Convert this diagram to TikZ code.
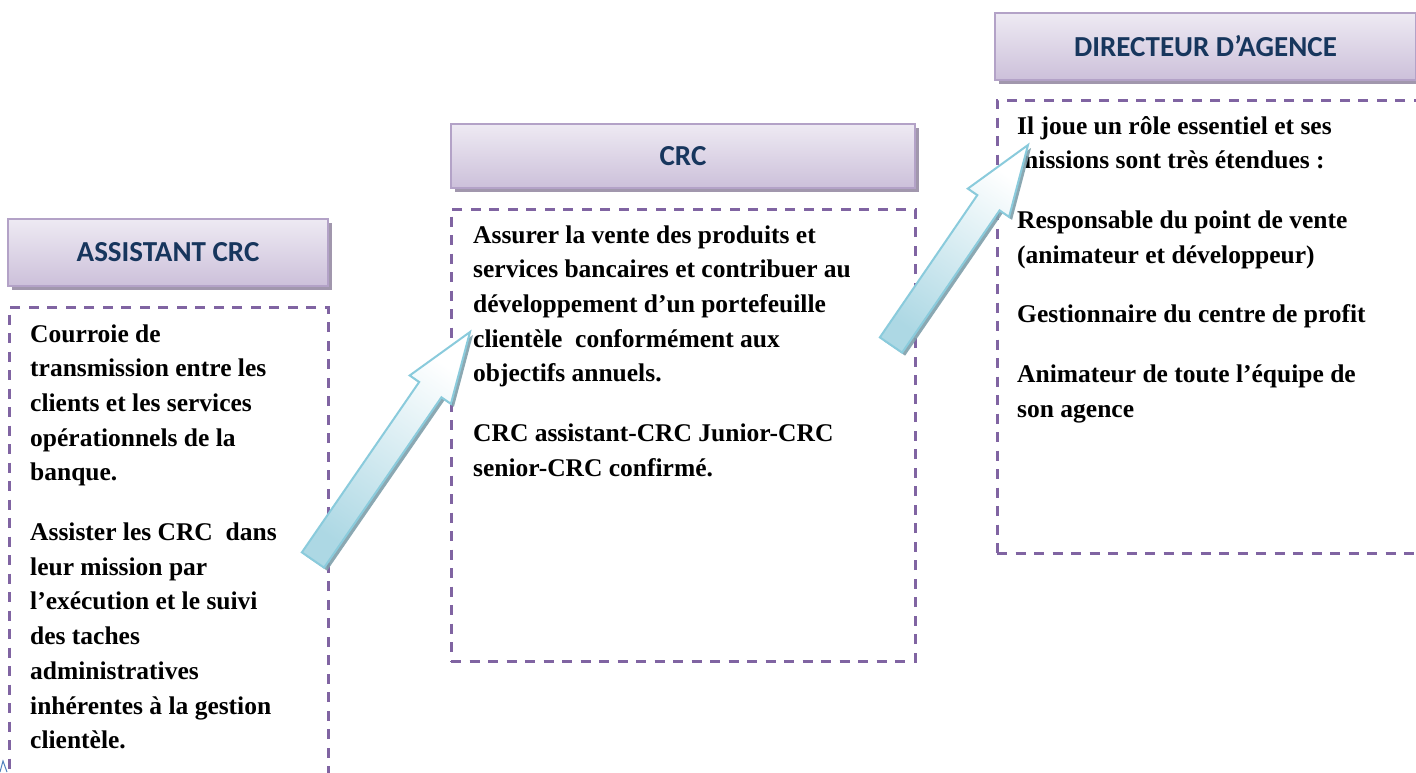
\documentclass[tikz,border=0pt]{standalone}
\usepackage{fontspec}
\setmainfont{Liberation Serif}
\newfontfamily\headfont{Carlito}
\usetikzlibrary{calc,shadows}
\definecolor{dashc}{HTML}{8064A2}
\definecolor{hdrline}{HTML}{B3A2C7}
\definecolor{hdrtop}{HTML}{EEEAF3}
\definecolor{hdrbot}{HTML}{CCC0DA}
\definecolor{hdrshadow}{HTML}{A197AD}
\definecolor{hdrtext}{HTML}{17365D}
\definecolor{arrtail}{HTML}{ADD8E4}
\definecolor{arrline}{HTML}{8ACBDC}
\definecolor{arrshadow}{HTML}{7F9FAA}
\definecolor{bluebit}{HTML}{4F81BD}
\newcommand\bodytext[1]{\parbox[t]{420pt}{\raggedright #1}}
\begin{document}
\begin{tikzpicture}[x=1pt,y=-1pt,
  hdr/.style={draw=hdrline, line width=2.5pt, top color=hdrtop, bottom color=hdrbot,
    inner sep=0pt, text=hdrtext, font=\headfont\bfseries\fontsize{29}{33}\selectfont,
    drop shadow={shadow xshift=4pt, shadow yshift=-4pt, fill=hdrshadow, opacity=1}},
  dbox/.style={draw=dashc, line width=3pt, dash pattern=on 10pt off 8.5pt, inner sep=0pt},
  body/.style={font=\bfseries\fontsize{25.5}{34.7}\selectfont, inner sep=0pt, anchor=base west},
  arrowbody/.style={draw=arrline, line width=2pt, line join=miter, top color=white, bottom color=arrtail, shading angle=#1,
    drop shadow={shadow xshift=3pt, shadow yshift=-3pt, fill=arrshadow, opacity=0.9}}
]
\useasboundingbox (0,0) rectangle (1416,772);
\clip (0,0) rectangle (1416,772);
\fill[white] (0,0) rectangle (1416,772);

% dashed boxes
\node[dbox, minimum width=319pt, minimum height=520pt] (asbox) at (168.5,567) {};
\node[dbox, minimum width=464pt, minimum height=452pt] (crcbox) at (683,435) {};
\node[dbox, minimum width=440pt, minimum height=453pt] (dirbox) at (1217,326.5) {};

% headers
\node[hdr, minimum width=320pt, minimum height=67pt] (ashdr) at (168,252.5) {ASSISTANT CRC};
\node[hdr, minimum width=464pt, minimum height=64pt] (crchdr) at (683,156) {CRC};
\node[hdr, minimum width=421pt, minimum height=67pt] (dirhdr) at (1205.5,46.5) {DIRECTEUR D’AGENCE};

% texts
\node[body] (astxt) at (30,342) {\bodytext{Courroie de\\transmission entre les\\clients et les services\\opérationnels de la\\banque.\\[25pt]Assister les CRC\ \ dans\\leur mission par\\l’exécution et le suivi\\des taches\\administratives\\inhérentes à la gestion\\clientèle.}};
\node[body] (crctxt) at (473,243) {\bodytext{Assurer la vente des produits et\\services bancaires et contribuer au\\développement d’un portefeuille\\clientèle\ \ conformément aux\\objectifs annuels.\\[25pt]CRC assistant-CRC Junior-CRC\\senior-CRC confirmé.}};
\node[body] (dirtxt) at (1017,134) {\bodytext{Il joue un rôle essentiel et ses\\missions sont très étendues :\\[25pt]Responsable du point de vente\\(animateur et développeur)\\[25pt]Gestionnaire du centre de profit\\[25pt]Animateur de toute l’équipe de\\son agence}};

% block arrows
\coordinate (ta) at (313,560);
\coordinate (ha) at (470,332);
\coordinate (ba) at ($(ha)!70pt!(ta)$);
\draw[arrowbody=-34.5] ($(ta)!13.5pt!90:(ha)$) -- ($(ba)!13.5pt!90:(ha)$) -- ($(ba)!25pt!90:(ha)$) -- (ha)
  -- ($(ba)!25pt!-90:(ha)$) -- ($(ba)!13.5pt!-90:(ha)$) -- ($(ta)!13.5pt!-90:(ha)$) -- cycle;

\coordinate (tb) at (891,345);
\coordinate (hb) at (1028,145);
\coordinate (bb) at ($(hb)!70pt!(tb)$);
\draw[arrowbody=-34.4] ($(tb)!13.5pt!90:(hb)$) -- ($(bb)!13.5pt!90:(hb)$) -- ($(bb)!25pt!90:(hb)$) -- (hb)
  -- ($(bb)!25pt!-90:(hb)$) -- ($(bb)!13.5pt!-90:(hb)$) -- ($(tb)!13.5pt!-90:(hb)$) -- cycle;

% clipped fragment at the lower left corner
\draw[bluebit, line width=1pt] (0,772) -- (3,761) -- (7,772);
\end{tikzpicture}
\end{document}
